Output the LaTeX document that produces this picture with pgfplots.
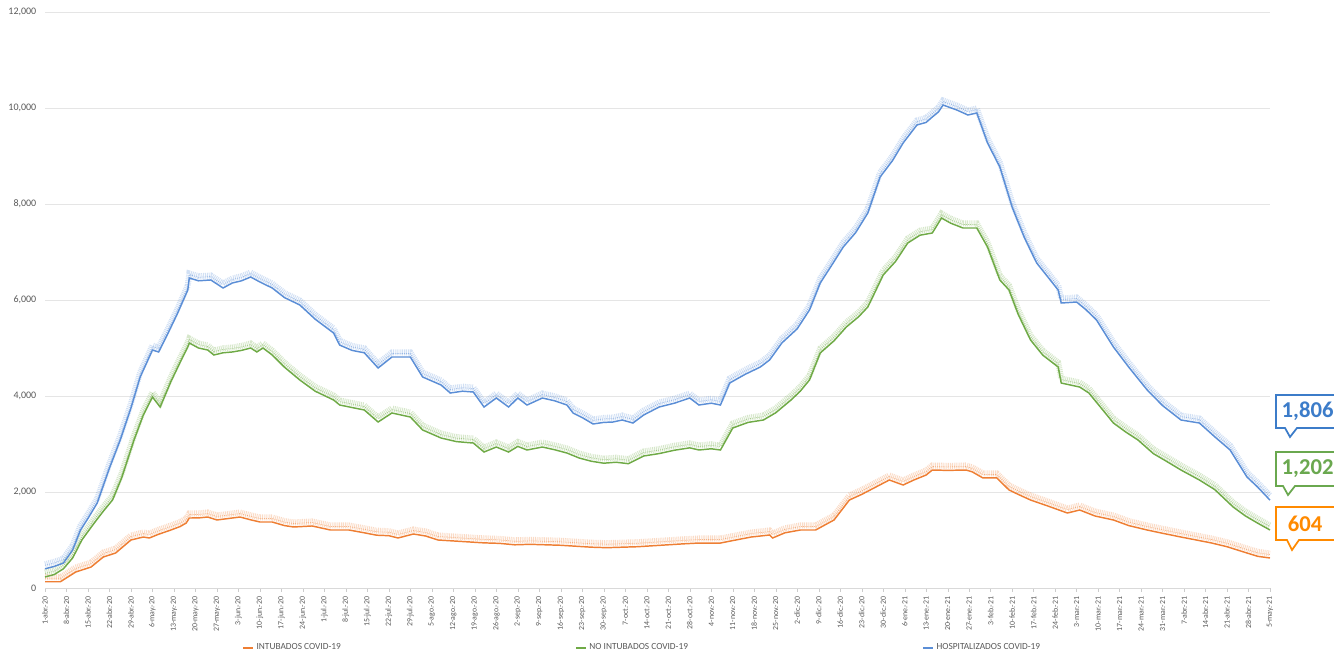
\documentclass[border=0pt]{standalone}
\usepackage{pgfplots}
\usepackage{pgfplotstable}
\pgfplotsset{compat=1.18}
\usepackage{fontspec}
\setmainfont{Carlito}
\definecolor{cblue}{HTML}{5B8ED6}
\definecolor{cgreen}{HTML}{6FAA46}
\definecolor{corange}{HTML}{EE7E33}
\definecolor{lblue}{HTML}{5B8ED6}
\definecolor{kblue}{HTML}{3C7CC9}
\definecolor{kgreen}{HTML}{6AA84F}
\definecolor{korange}{HTML}{FF8A00}
\definecolor{txtgray}{HTML}{595959}

\pgfplotstableread{
d v
0 400
3 450
6 520
9 790
11.5 1200
14 1450
17 1770
21 2500
24.5 3083
28 3750
31 4396
35 4958
37 4917
40 5300
43 5700
46.5 6208
47 6458
50 6400
54 6417
58 6250
61 6354
64 6400
67 6479
70 6375
74 6250
78 6050
83 5896
88 5600
94 5312
96 5060
100 4950
104 4900
108.5 4583
113 4812
119 4812
123 4396
129 4229
132 4062
136 4100
139.5 4083
143 3770
147 3958
151 3770
154 3958
157 3812
162 3958
166 3900
170 3812
172 3646
175 3550
178.5 3417
182 3450
185 3458
188 3500
191.5 3437
195 3604
200 3770
205 3850
210 3958
213 3812
217 3850
220 3812
223 4270
228 4450
233 4604
236 4750
240 5104
245 5400
249 5792
252.5 6354
256 6700
260 7104
264 7400
268 7812
272 8562
276 8900
279.5 9271
284 9646
287 9700
289 9812
291 9917
292.5 10062
297 9958
300.6 9854
303.5 9896
307 9271
311 8771
315 7937
319 7300
323 6771
327 6450
330 6208
331 5937
336 5958
339 5800
342.5 5583
348 5021
353 4600
359 4125
364 3800
370 3500
376 3437
381 3150
386 2875
391.5 2312
395 2100
399 1830
}\hosp

\pgfplotstableread{
d v
0 230
3 280
6 400
9 625
12 1000
16 1350
19 1600
22 1833
25 2300
29 3083
32 3600
35 3979
37.5 3770
41 4300
44 4700
46.5 5021
47 5104
50 5000
53 4958
55 4854
58 4900
61 4917
64 4950
67 5000
69 4917
71 5000
74 4854
78 4600
83 4333
88 4100
94 3917
96 3812
100 3760
104 3708
108.5 3458
113 3646
119 3562
123 3292
129 3125
134 3050
139.5 3020
143 2833
147 2937
151 2833
154 2950
157 2875
162 2937
166 2880
170 2812
174 2708
178 2640
182 2600
186 2620
190 2590
195 2750
200 2800
205 2870
210 2920
213 2875
217 2900
220 2875
224 3333
229 3450
234 3500
238 3650
243 3917
246 4100
249 4333
252.5 4896
257 5150
261 5437
265 5650
268 5854
273 6521
277 6800
281 7187
285 7350
289 7396
292 7708
295 7600
299 7500
303.5 7500
307 7104
311 6417
314 6208
317 5700
321 5167
325 4850
330 4604
331 4270
337 4187
340 4062
344 3750
348 3437
352 3250
356 3083
361 2800
365 2650
370 2458
376 2250
381 2050
387 1687
391 1500
395 1350
399 1208
}\nointub

\pgfplotstableread{
d v
0 130
5 130
10 333
15 437
19 646
23 729
28 1000
32 1062
34 1042
37 1120
41 1208
44 1280
46 1354
47 1458
50 1460
53 1479
56 1417
60 1450
63.5 1479
67 1420
70 1375
74 1375
78 1300
81 1271
87 1292
93 1208
99 1208
104 1150
108 1100
112 1090
115 1042
120 1125
124 1083
128 1000
133 980
138 960
143 940
148 930
153 900
158 910
163 900
168 890
173 870
178 850
183 840
188 850
193 860
198 880
203 900
208 920
213 937
220 937
225 1000
230 1062
236 1104
237 1042
241 1150
246 1208
251 1208
257 1417
262 1833
266 1950
270 2083
275 2250
279.5 2146
283 2250
287 2354
289 2458
294 2450
300 2458
302 2420
305.5 2292
310 2292
314 2042
317 1950
321 1833
327 1700
333 1562
337 1625
342 1500
348 1417
353 1300
359 1208
364 1140
370 1062
375 1000
380 937
385 860
391.5 729
395 660
399 625
}\intub

\tikzset{band/.style={line width=4.5pt, opacity=0.28, dash pattern=on 0.7pt off 0.7pt, yshift=3.4pt},
         band2/.style={line width=0.5pt, opacity=0.5, dash pattern=on 0.8pt off 0.8pt, yshift=2.6pt}}

\begin{document}
\begin{tikzpicture}
\path[use as bounding box] (0,0) rectangle (1000.5pt,491.25pt);
\begin{axis}[
  at={(33.75pt,50.25pt)}, anchor=south west,
  scale only axis, width=918.75pt, height=432pt,
  xmin=0, xmax=399, ymin=0, ymax=12000,
  axis x line*=bottom, axis y line*=left,
  y axis line style={draw=none},
  x axis line style={draw=gray!30},
  ytick={0,2000,...,12000},
  scaled y ticks=false,
  ytick style={draw=none},
  xtick={0,7,...,399},
  xtick style={draw=gray!40},
  tick align=outside, major tick length=3pt,
  ymajorgrids, grid style={draw=gray!20, line width=0.6pt},
  /pgf/number format/.cd, 1000 sep={,}, assume math mode=true,
  /pgfplots/.cd,
  yticklabel style={font=\fontsize{7.5}{8}\selectfont, text=txtgray},
  xticklabel style={font=\fontsize{5.9}{6}\selectfont, text=txtgray, rotate=90, anchor=east},
  xticklabels={1-abr.-20,8-abr.-20,15-abr.-20,22-abr.-20,29-abr.-20,6-may.-20,13-may.-20,20-may.-20,27-may.-20,3-jun.-20,10-jun.-20,17-jun.-20,24-jun.-20,1-jul.-20,8-jul.-20,15-jul.-20,22-jul.-20,29-jul.-20,5-ago.-20,12-ago.-20,19-ago.-20,26-ago.-20,2-sep.-20,9-sep.-20,16-sep.-20,23-sep.-20,30-sep.-20,7-oct.-20,14-oct.-20,21-oct.-20,28-oct.-20,4-nov.-20,11-nov.-20,18-nov.-20,25-nov.-20,2-dic.-20,9-dic.-20,16-dic.-20,23-dic.-20,30-dic.-20,6-ene.-21,13-ene.-21,20-ene.-21,27-ene.-21,3-feb.-21,10-feb.-21,17-feb.-21,24-feb.-21,3-mar.-21,10-mar.-21,17-mar.-21,24-mar.-21,31-mar.-21,7-abr.-21,14-abr.-21,21-abr.-21,28-abr.-21,5-may.-21},
  legend columns=3,
  legend style={at={(0.488,-0.104)}, anchor=center, draw=none, fill=none,
    font=\fontsize{7}{8}\selectfont, text=txtgray,
    /tikz/every even column/.append style={column sep=174pt}},
  legend image code/.code={\draw[#1, line width=0.9pt] (0pt,0pt) -- (7.5pt,0pt);},
  clip=false,
]
\addplot[corange, band, forget plot] table[x=d,y=v] {\intub};
\addplot[corange, band2, forget plot] table[x=d,y=v] {\intub};
\addplot[cgreen, band, forget plot] table[x=d,y=v] {\nointub};
\addplot[cgreen, band2, forget plot] table[x=d,y=v] {\nointub};
\addplot[lblue, band, forget plot] table[x=d,y=v] {\hosp};
\addplot[lblue, band2, forget plot] table[x=d,y=v] {\hosp};
\addplot[corange, line width=1.1pt] table[x=d,y=v] {\intub};
\addlegendentry{INTUBADOS COVID-19}
\addplot[cgreen, line width=1.1pt] table[x=d,y=v] {\nointub};
\addlegendentry{NO INTUBADOS COVID-19}
\addplot[cblue, line width=1.1pt] table[x=d,y=v] {\hosp};
\addlegendentry{HOSPITALIZADOS COVID-19}
\end{axis}
\begin{scope}[x=0.75pt, y=-0.75pt, shift={(0pt,491.25pt)}]
  \draw[kblue, line width=1.3pt, fill=white, line join=miter]
    (1345,395) -- (1276,395) -- (1276,428) -- (1285,428) -- (1290,437) -- (1297,428) -- (1345,428);
  \node[kblue, font=\fontsize{17}{18}\selectfont\bfseries, anchor=west] at (1277,411.5) {1,806};
  \draw[kgreen, line width=1.3pt, fill=white, line join=miter]
    (1345,452) -- (1276,452) -- (1276,486) -- (1283,486) -- (1288,495) -- (1295,486) -- (1345,486);
  \node[kgreen, font=\fontsize{17}{18}\selectfont\bfseries, anchor=west] at (1277,469) {1,202};
  \draw[korange, line width=1.3pt, fill=white, line join=miter]
    (1345,507) -- (1276,507) -- (1276,540) -- (1287,540) -- (1292,550) -- (1299,540) -- (1345,540);
  \node[korange, font=\fontsize{17}{18}\selectfont\bfseries, anchor=center] at (1305,523.5) {604};
\end{scope}
\end{tikzpicture}
\end{document}
